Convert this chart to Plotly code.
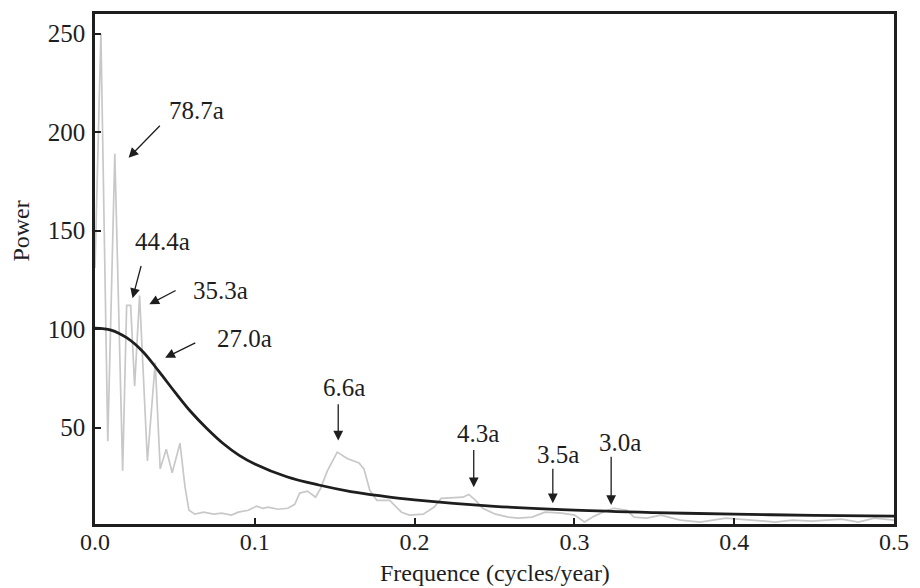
import plotly.graph_objects as go

# Spectrum (gray)
freq = [0.0, 0.0037, 0.008, 0.0124, 0.0173, 0.0198, 0.0223, 0.0248, 0.0279, 0.0328,
        0.0377, 0.0408, 0.0446, 0.0483, 0.0532, 0.0563, 0.0588, 0.0625, 0.068, 0.0743,
        0.0792, 0.0854, 0.0897, 0.0959, 0.1009, 0.1052, 0.1083, 0.1145, 0.1207, 0.125,
        0.1281, 0.133, 0.138, 0.1411, 0.1454, 0.1516, 0.1578, 0.1652, 0.1683, 0.172,
        0.1764, 0.1825, 0.1844, 0.1918, 0.1968, 0.2054, 0.2123, 0.2166, 0.2302, 0.2339,
        0.2382, 0.2426, 0.2506, 0.2587, 0.2649, 0.2735, 0.2816, 0.2921, 0.3001, 0.3063,
        0.3125, 0.3205, 0.3249, 0.3329, 0.3373, 0.3453, 0.354, 0.3663, 0.3787, 0.3948,
        0.4115, 0.4257, 0.4363, 0.4486, 0.4672, 0.4777, 0.4876, 0.5]
power = [131, 250, 43, 189, 28, 112, 112, 71, 117, 33,
         83, 29, 39, 27, 42, 20, 8, 6, 7, 6,
         6.5, 5.5, 7, 8, 10, 9, 9.6, 8.5, 9, 11,
         16.7, 17.7, 14.6, 19, 28, 37.5, 34.3, 32, 29, 18,
         13, 13, 13, 7, 5.5, 6, 9.6, 14, 14.6, 16,
         13, 9, 6, 4.5, 4, 4.5, 7, 6.5, 5.5, 2,
         5, 8, 9, 8, 4.5, 4, 5.5, 3, 2, 4,
         3, 2, 3, 2.5, 3.5, 2, 4, 3]

# Background (red-noise) curve
bg_freq = [0.0, 0.01, 0.02, 0.03, 0.04, 0.05, 0.06, 0.07, 0.08, 0.09,
           0.10, 0.12, 0.14, 0.16, 0.18, 0.20, 0.25, 0.30, 0.35, 0.40, 0.45, 0.50]
bg_power = [100.5, 99.5, 95.5, 88.5, 78.5, 68, 58, 49.5, 42, 36,
            31.5, 25, 20.8, 17.5, 15.2, 13.3, 10, 8, 6.8, 6, 5.4, 5]

# Period labels: text position, arrow tail, arrow tip (data coords)
labels = ["78.7a", "44.4a", "35.3a", "27.0a", "6.6a", "4.3a", "3.5a", "3.0a"]
label_x = [0.0633, 0.0421, 0.0786, 0.0935, 0.1559, 0.2395, 0.2896, 0.3286]
label_y = [211, 144.5, 119.5, 95, 70.2, 47.0, 36.4, 42.4]
tail_x = [0.0415, 0.0291, 0.0514, 0.0637, 0.1522, 0.237, 0.2865, 0.323]
tail_y = [204, 132.8, 120, 93.4, 62.6, 39.4, 29.8, 35.9]
tip_x = [0.021, 0.0235, 0.034, 0.0439, 0.1522, 0.237, 0.2865, 0.323]
tip_y = [187, 115.7, 112.6, 85.4, 43.4, 19.7, 11.6, 10.6]

FONT = "Liberation Serif"
INK = "#1e1e1e"

fig = go.Figure()
fig.add_trace(go.Scatter(x=freq, y=power, mode="lines",
                         line=dict(color="#c8c8c8", width=1.7), showlegend=False))
fig.add_trace(go.Scatter(x=bg_freq, y=bg_power, mode="lines",
                         line=dict(color=INK, width=2.8, shape="spline", smoothing=1.0),
                         showlegend=False))

annotations = []
for t, lx, ly, ax, ay, px, py in zip(labels, label_x, label_y, tail_x, tail_y, tip_x, tip_y):
    annotations.append(dict(x=px, y=py, ax=ax, ay=ay, xref="x", yref="y", axref="x", ayref="y",
                            text="", showarrow=True, arrowhead=2, arrowsize=1.5,
                            arrowwidth=1.3, arrowcolor=INK, standoff=0, startstandoff=0))
    annotations.append(dict(x=lx, y=ly, xref="x", yref="y", text=t, showarrow=False,
                            xanchor="center", yanchor="middle",
                            font=dict(family=FONT, size=25, color=INK)))

annotations.append(dict(x=-0.0928, y=0.575, xref="paper", yref="paper", text="Power",
                        textangle=-90, showarrow=False, xanchor="center", yanchor="middle",
                        font=dict(family=FONT, size=24, color=INK)))
annotations.append(dict(x=0.5, y=-0.097, xref="paper", yref="paper",
                        text="Frequence (cycles/year)", showarrow=False,
                        xanchor="center", yanchor="middle",
                        font=dict(family=FONT, size=24, color=INK)))

fig.update_layout(
    width=920, height=588,
    margin=dict(l=95, r=17, t=11, b=64),
    paper_bgcolor="white", plot_bgcolor="white",
    annotations=annotations,
    font=dict(family=FONT, size=24, color=INK),
)
fig.update_xaxes(range=[0, 0.5], dtick=0.1, tickformat=".1f",
                 showgrid=False, zeroline=False,
                 showline=True, linecolor=INK, linewidth=2.5, mirror=True,
                 ticks="inside", ticklen=6, tickwidth=1.5, tickcolor=INK,
                 ticklabelstandoff=-6,
                 tickfont=dict(family=FONT, size=24, color=INK))
fig.update_yaxes(range=[1, 260], tickvals=[50, 100, 150, 200, 250],
                 showgrid=False, zeroline=False,
                 showline=True, linecolor=INK, linewidth=2.5, mirror=True,
                 ticks="inside", ticklen=6, tickwidth=1.5, tickcolor=INK,
                 ticklabelstandoff=2,
                 tickfont=dict(family=FONT, size=25, color=INK))

fig.write_html("out.html")
